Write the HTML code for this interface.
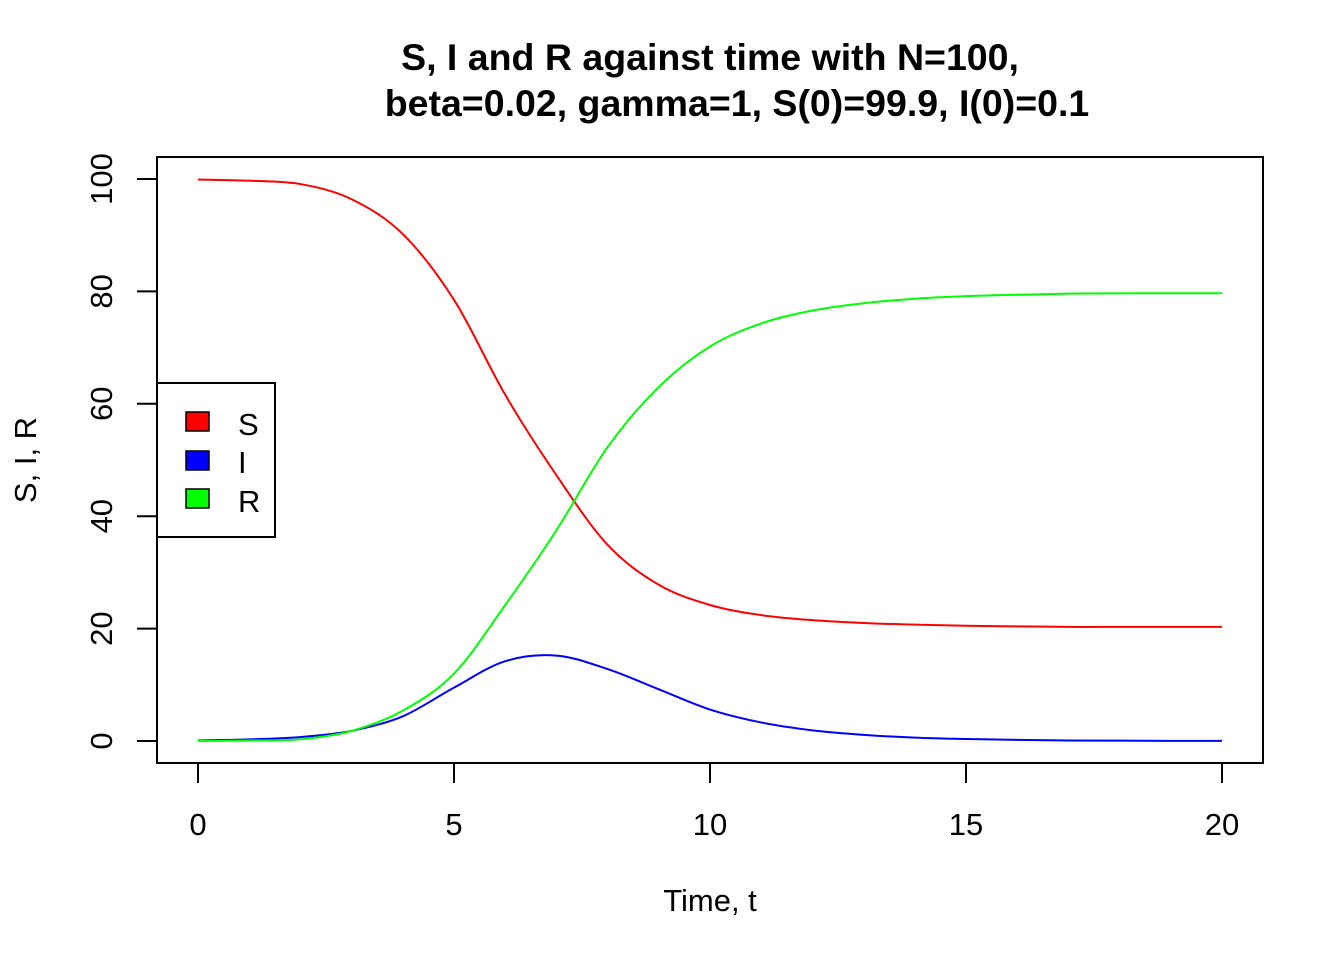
<!DOCTYPE html>
<html><head><meta charset="utf-8"><style>
body{margin:0;background:#fff}
svg text{font-family:"Liberation Sans",Arial,sans-serif;fill:#000}
</style></head><body>
<svg id="chart" width="1344" height="960" viewBox="0 0 1344 960" xmlns="http://www.w3.org/2000/svg">
<rect width="1344" height="960" fill="#fff"/>
<text x="710" y="70" font-size="37.5" font-weight="bold" text-anchor="middle">S, I and R against time with N=100,</text>
<text x="737" y="116" font-size="37.5" font-weight="bold" text-anchor="middle">beta=0.02, gamma=1, S(0)=99.9, I(0)=0.1</text>
<rect x="157" y="157" width="1106" height="606" fill="none" stroke="#000" stroke-width="2"/>
<g id="xaxis"></g>
<g id="yaxis"></g>
<g id="series"></g>
<text x="710" y="911" font-size="31" text-anchor="middle">Time, t</text>
<text transform="translate(36,460) rotate(-90)" font-size="31" text-anchor="middle">S, I, R</text>
<g>
<rect x="157" y="383" width="118" height="154" fill="#fff" stroke="#000" stroke-width="2"/>
<rect x="186" y="412" width="23" height="19" fill="#f00" stroke="#000" stroke-width="1.5"/>
<rect x="186" y="451" width="23" height="19" fill="#00f" stroke="#000" stroke-width="1.5"/>
<rect x="186" y="489" width="23" height="19" fill="#0f0" stroke="#000" stroke-width="1.5"/>
<text x="238" y="435" font-size="31">S</text>
<text x="238" y="473" font-size="31">I</text>
<text x="238" y="512" font-size="31">R</text>
</g>
</svg>
<script>
const times=[0,1,2,3,4,5,6,7,8,9,10,11,12,13,14,15,16,17,18,19,20];
const sValues=[99.9,99.7,99.1,96.4,90.2,78.5,61.6,47.3,34.9,27.8,24.2,22.4,21.5,21.0,20.7,20.5,20.4,20.3,20.3,20.3,20.3];
const iValues=[0.1,0.3,0.7,1.8,4.4,9.5,14.2,15.2,12.8,9.2,5.6,3.3,1.9,1.1,0.6,0.35,0.2,0.1,0.06,0.03,0.02];
const rValues=[0,0.1,0.3,1.8,5.4,12.0,24.2,37.5,52.3,63.0,70.2,74.3,76.6,77.9,78.7,79.15,79.4,79.6,79.65,79.67,79.68];
const xTicks=[0,5,10,15,20];
const yTicks=[0,20,40,60,80,100];
const NS="http://www.w3.org/2000/svg";
const sx=t=>198+t*51.2, sy=v=>741-v*5.62;
function mk(tag,attrs,parent){const e=document.createElementNS(NS,tag);for(const k in attrs)e.setAttribute(k,attrs[k]);parent.appendChild(e);return e;}
const xa=document.getElementById('xaxis'), ya=document.getElementById('yaxis'), sg=document.getElementById('series');
mk('line',{x1:sx(xTicks[0]),x2:sx(xTicks[xTicks.length-1]),y1:763,y2:763,stroke:'#000','stroke-width':2},xa);
xTicks.forEach(t=>{
  const l=mk('line',{x1:sx(t),x2:sx(t),y1:763,y2:783,stroke:'#000','stroke-width':2},xa);
  
  
  const tx=mk('text',{x:sx(t),y:835,'font-size':31,'text-anchor':'middle'},xa);tx.textContent=t;
  
  
});
mk('line',{x1:157,x2:157,y1:sy(yTicks[0]),y2:sy(yTicks[yTicks.length-1]),stroke:'#000','stroke-width':2},ya);
yTicks.forEach(v=>{
  const l=mk('line',{x1:137,x2:157,y1:sy(v),y2:sy(v),stroke:'#000','stroke-width':2},ya);
  
  
  const tx=mk('text',{transform:`translate(112,${sy(v)}) rotate(-90)`,'font-size':31,'text-anchor':'middle'},ya);tx.textContent=v;
  
  
});
function path(vals){
  const p=times.map((t,i)=>[sx(t),sy(vals[i])]);
  let d=`M${p[0][0]},${p[0][1]}`;
  for(let i=0;i<p.length-1;i++){
    const p0=p[Math.max(0,i-1)],p1=p[i],p2=p[i+1],p3=p[Math.min(p.length-1,i+2)];
    const c1=[p1[0]+(p2[0]-p0[0])/6,p1[1]+(p2[1]-p0[1])/6],c2=[p2[0]-(p3[0]-p1[0])/6,p2[1]-(p3[1]-p1[1])/6];
    d+=` C${c1[0]},${c1[1]} ${c2[0]},${c2[1]} ${p2[0]},${p2[1]}`;
  }
  return d;
}
[[sValues,'#f00','line-s'],[iValues,'#00f','line-i'],[rValues,'#0f0','line-r']].forEach(([v,c,n])=>{
  const e=mk('path',{d:path(v),fill:'none',stroke:c,'stroke-width':2},sg);
  
  
});
</script>
</body></html>
